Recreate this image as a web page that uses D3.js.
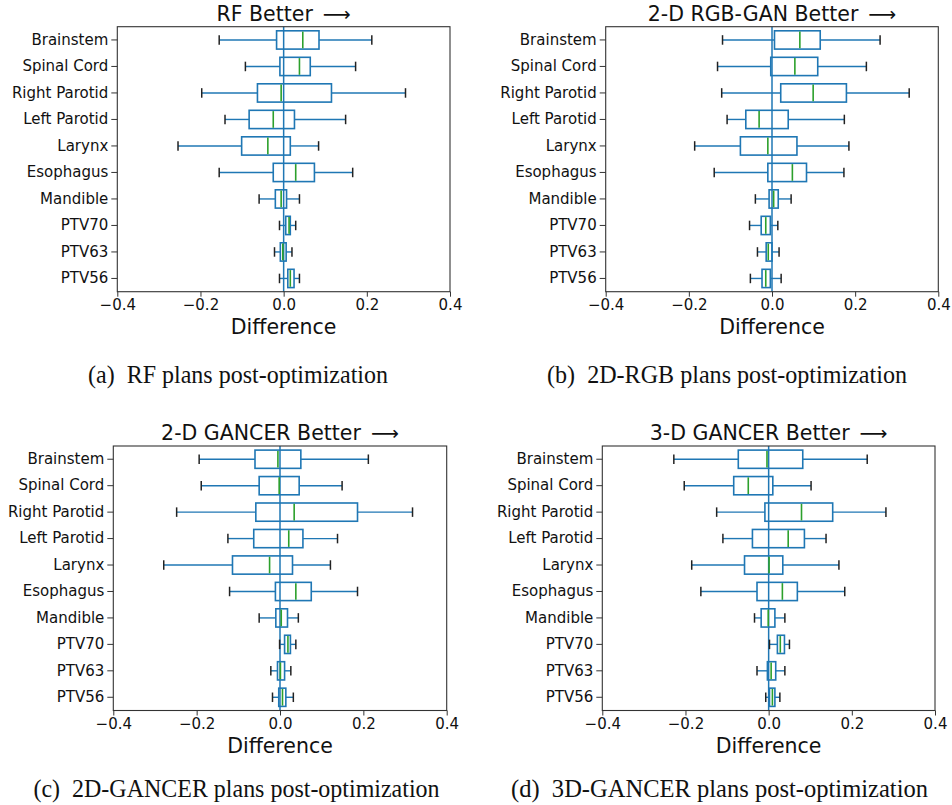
<!DOCTYPE html>
<html><head><meta charset="utf-8">
<script src="https://cdn.jsdelivr.net/npm/d3@7"></script>
<style>
html,body{margin:0;padding:0;background:#fff;}
svg{display:block;}
</style></head>
<body>
<svg id="chart" width="952" height="805"></svg>
<script>
// ---------- DATA ----------
const categories = ["Brainstem","Spinal Cord","Right Parotid","Left Parotid","Larynx","Esophagus","Mandible","PTV70","PTV63","PTV56"];
const xTicks = [-0.4,-0.2,0.0,0.2,0.4];
const xTickLabels = ["\u22120.4","\u22120.2","0.0","0.2","0.4"];
const titles = ["RF Better","2-D RGB-GAN Better","2-D GANCER Better","3-D GANCER Better"];
const captions = ["(a)\u00a0\u00a0RF plans post-optimization","(b)\u00a0\u00a02D-RGB plans post-optimization","(c)\u00a0\u00a02D-GANCER plans post-optimization","(d)\u00a0\u00a03D-GANCER plans post-optimization"];
// stats per category: [lower whisker, Q1, median, Q3, upper whisker]
const rfStats = [
  [-0.155,-0.017,0.046,0.085,0.212],
  [-0.092,-0.009,0.038,0.064,0.173],
  [-0.197,-0.063,-0.006,0.115,0.293],
  [-0.141,-0.083,-0.025,0.026,0.149],
  [-0.254,-0.101,-0.038,0.016,0.084],
  [-0.155,-0.025,0.029,0.074,0.166],
  [-0.059,-0.020,-0.006,0.007,0.038],
  [-0.010,0.005,0.013,0.016,0.029],
  [-0.022,-0.008,-0.002,0.006,0.020],
  [-0.010,0.010,0.016,0.025,0.038]
];
const rgbStats = [
  [-0.119,0.006,0.067,0.116,0.260],
  [-0.131,-0.003,0.055,0.110,0.227],
  [-0.121,0.021,0.099,0.179,0.330],
  [-0.108,-0.063,-0.031,0.039,0.174],
  [-0.186,-0.076,-0.010,0.060,0.185],
  [-0.139,-0.010,0.049,0.083,0.173],
  [-0.040,-0.007,0.004,0.015,0.046],
  [-0.054,-0.026,-0.015,-0.004,0.014],
  [-0.035,-0.014,-0.009,0.000,0.017],
  [-0.052,-0.024,-0.015,-0.004,0.022]
];
const gancer2dStats = [
  [-0.194,-0.060,-0.005,0.050,0.212],
  [-0.189,-0.050,-0.002,0.046,0.149],
  [-0.248,-0.058,0.034,0.186,0.318],
  [-0.125,-0.063,0.021,0.055,0.138],
  [-0.279,-0.114,-0.025,0.030,0.121],
  [-0.121,-0.011,0.038,0.075,0.186],
  [-0.050,-0.010,0.003,0.018,0.044],
  [-0.001,0.011,0.019,0.025,0.038],
  [-0.022,-0.006,0.001,0.011,0.026],
  [-0.018,-0.003,0.006,0.014,0.032]
];
const gancer3dStats = [
  [-0.228,-0.073,-0.004,0.082,0.237],
  [-0.203,-0.084,-0.049,0.010,0.102],
  [-0.125,-0.009,0.079,0.154,0.282],
  [-0.110,-0.039,0.047,0.086,0.138],
  [-0.185,-0.058,0.001,0.034,0.169],
  [-0.163,-0.028,0.033,0.069,0.183],
  [-0.034,-0.018,-0.001,0.015,0.039],
  [0.002,0.021,0.028,0.038,0.050],
  [-0.028,-0.003,0.006,0.017,0.039],
  [-0.007,0.002,0.009,0.015,0.027]
];

// ---------- LAYOUT ----------
const panels = [
  {stats: rfStats,       left:117.3, right:450.0, top:26.7, bottom:291.7, capX:238, capY:383, capW:300},
  {stats: rgbStats,      left:605.7, right:938.3, top:26.7, bottom:291.7, capX:727, capY:383, capW:360},
  {stats: gancer2dStats, left:113.3, right:446.7, top:446.0, bottom:710.5, capX:236.5, capY:797, capW:406},
  {stats: gancer3dStats, left:602.3, right:935.0, top:446.0, bottom:710.5, capX:719.5, capY:797, capW:417}
];

const svg = d3.select("#chart");
const blue = "#1f77b4", green = "#2ca02c", capColor = "#222";
const sans = "'DejaVu Sans', sans-serif";

panels.forEach((p, i) => {
  const g = svg.append("g");
  const x = d3.scaleLinear().domain([-0.4, 0.4]).range([p.left, p.right]);
  const y = d3.scaleBand().domain(categories).range([p.top, p.bottom]).padding(0);
  const bw = y.bandwidth();
  const boxH = bw * 0.69;
  const capH = bw * 0.36;

  const rows = categories.map((c, k) => ({cat: c, s: p.stats[k]}));

  // zero line
  g.append("line")
    .attr("x1", x(0)).attr("x2", x(0))
    .attr("y1", p.top).attr("y2", p.bottom)
    .attr("stroke", blue).attr("stroke-width", 1.5);

  const row = g.selectAll("g.row").data(rows).enter().append("g").attr("class","row");
  const cy = d => y(d.cat) + bw / 2;

  // whiskers
  row.append("line")
    .attr("x1", d => x(d.s[0])).attr("x2", d => x(d.s[1]))
    .attr("y1", cy).attr("y2", cy)
    .attr("stroke", blue).attr("stroke-width", 1.4);
  row.append("line")
    .attr("x1", d => x(d.s[3])).attr("x2", d => x(d.s[4]))
    .attr("y1", cy).attr("y2", cy)
    .attr("stroke", blue).attr("stroke-width", 1.4);
  // caps
  [0, 4].forEach(idx => {
    row.append("line")
      .attr("x1", d => x(d.s[idx])).attr("x2", d => x(d.s[idx]))
      .attr("y1", d => cy(d) - capH / 2).attr("y2", d => cy(d) + capH / 2)
      .attr("stroke", capColor).attr("stroke-width", 1.5);
  });
  // boxes
  row.append("rect")
    .attr("x", d => x(d.s[1])).attr("width", d => x(d.s[3]) - x(d.s[1]))
    .attr("y", d => cy(d) - boxH / 2).attr("height", boxH)
    .attr("fill", "none").attr("stroke", blue).attr("stroke-width", 1.6);
  // medians
  row.append("line")
    .attr("x1", d => x(d.s[2])).attr("x2", d => x(d.s[2]))
    .attr("y1", d => cy(d) - boxH / 2 + 0.8).attr("y2", d => cy(d) + boxH / 2 - 0.8)
    .attr("stroke", green).attr("stroke-width", 1.6);

  // frame
  g.append("rect")
    .attr("x", p.left).attr("y", p.top)
    .attr("width", p.right - p.left).attr("height", p.bottom - p.top)
    .attr("fill", "none").attr("stroke", "#333").attr("stroke-width", 1.1);

  // axes
  const yAxis = d3.axisLeft(y).tickSize(6).tickPadding(3);
  const ya = g.append("g").attr("transform", `translate(${p.left},0)`).call(yAxis);
  ya.select(".domain").remove();
  ya.selectAll("text").attr("font-family", sans).attr("font-size", 15).attr("fill", "#111");
  ya.selectAll("line").attr("stroke", "#333");

  const xAxis = d3.axisBottom(x).tickValues(xTicks)
    .tickFormat((d, k) => xTickLabels[k]).tickSize(5).tickPadding(3);
  const xa = g.append("g").attr("transform", `translate(0,${p.bottom})`).call(xAxis);
  xa.select(".domain").remove();
  xa.selectAll("text").attr("font-family", sans).attr("font-size", 15).attr("fill", "#111");
  xa.selectAll("line").attr("stroke", "#333");

  // x label
  g.append("text")
    .attr("x", (p.left + p.right) / 2).attr("y", p.bottom + 42.5)
    .attr("text-anchor", "middle").attr("font-family", sans).attr("font-size", 20.5)
    .attr("fill", "#111").text("Difference");

  // title
  const t = g.append("text")
    .attr("x", (p.left + p.right) / 2).attr("y", p.top - 6)
    .attr("text-anchor", "middle").attr("font-family", sans).attr("font-size", 20.5)
    .attr("fill", "#111");
  t.append("tspan").text(titles[i]);
  t.append("tspan").attr("dx", 10).attr("font-size", 19.5).text("\u27F6");

  // caption
  svg.append("text")
    .attr("x", p.capX).attr("y", p.capY)
    .attr("text-anchor", "middle")
    .attr("font-family", "'Liberation Serif', 'Times New Roman', serif")
    .attr("font-size", 24.5).attr("fill", "#111")
    .attr("textLength", p.capW).attr("lengthAdjust", "spacingAndGlyphs")
    .text(captions[i]);
});
</script>
</body></html>
